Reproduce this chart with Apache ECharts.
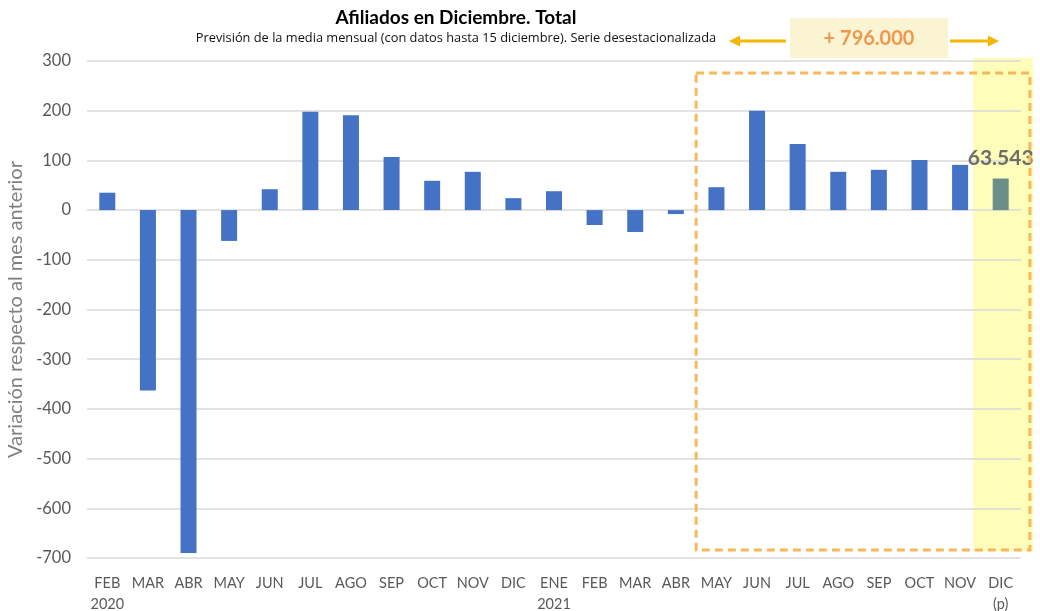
<!DOCTYPE html>
<html>
<head>
<meta charset="utf-8">
<script src="https://cdn.jsdelivr.net/npm/echarts@6/dist/echarts.min.js"></script>
<style>
  html, body { margin: 0; padding: 0; background: #fff; }
  #chart { width: 1040px; height: 611px; }
</style>
</head>
<body>
<div id="chart"></div>
<script>
// Months Feb 2020 .. Dic 2021 (last one is a forecast)
const months = ['FEB\n2020', 'MAR', 'ABR', 'MAY', 'JUN', 'JUL', 'AGO', 'SEP', 'OCT', 'NOV', 'DIC',
  'ENE\n2021', 'FEB', 'MAR', 'ABR', 'MAY', 'JUN', 'JUL', 'AGO', 'SEP', 'OCT', 'NOV', 'DIC\n(p)'];
// monthly change in affiliates (thousands)
const variation = [35, -363, -690, -62, 42, 198, 191, 107, 59, 77, 24,
  38, -30, -44, -8, 46, 200, 133, 77, 81, 101, 91, 63.543];
const yTicks = { min: -700, max: 300, step: 100 };
const totalLabel = '+ 796.000';

const chart = echarts.init(document.getElementById('chart'));
const font = 'Lato, "Open Sans", sans-serif';

const barData = variation.map((v, i) => {
  if (i === variation.length - 1) {
    return {
      value: v,
      itemStyle: { color: '#6A8E8A' },
      label: {
        show: true, position: 'top', distance: 10,
        formatter: p => p.value.toFixed(3),
        fontSize: 21, fontWeight: 'bold', color: '#6E6E66', fontFamily: font
      }
    };
  }
  return v;
});

chart.setOption({
  animation: false,
  grid: { left: 87, right: 19, top: 61, bottom: 53, outerBoundsMode: 'none' },
  xAxis: [{
    type: 'category',
    data: months,
    axisLine: { show: false },
    axisTick: { show: false },
    axisLabel: {
      interval: 0, margin: 15, color: '#595959', fontSize: 14.5,
      fontFamily: font, lineHeight: 21
    }
  }, {
    type: 'value', min: -0.5, max: months.length - 0.5, show: false
  }],
  yAxis: {
    type: 'value',
    min: yTicks.min, max: yTicks.max, interval: yTicks.step,
    name: 'Variación respecto al mes anterior',
    nameLocation: 'middle', nameGap: 60,
    nameTextStyle: { fontSize: 20, color: '#7F7F7F', fontFamily: font },
    axisLine: { show: false },
    axisTick: { show: false },
    axisLabel: { color: '#595959', fontSize: 16.5, fontFamily: font, margin: 16 },
    splitLine: { lineStyle: { color: '#D9D9D9', width: 1.5 } }
  },
  series: [{
    type: 'bar',
    data: barData,
    barWidth: 16,
    z: 3,
    itemStyle: { color: '#4472C4' }
  }],
  graphic: [
    { id: 'title', type: 'text', x: 456, y: 8,
      style: { text: 'Afiliados en Diciembre. Total', font: 'bold 19px ' + font, fill: '#000', align: 'center' } },
    { id: 'subtitle', type: 'text', x: 456, y: 32,
      style: { text: 'Previsión de la media mensual (con datos hasta 15 diciembre). Serie desestacionalizada',
        font: '12.8px "Open Sans", sans-serif', fill: '#111', align: 'center' } },
    { id: 'totBox', type: 'rect', shape: { x: 790, y: 18, width: 158, height: 40 }, style: { fill: '#FBF4D3' }, z: 0 },
    { id: 'totText', type: 'text', x: 869, y: 29,
      style: { text: totalLabel, font: 'bold 20px ' + font, fill: '#EE9950', align: 'center' } },
    { id: 'arrL', type: 'line', shape: { x1: 786, y1: 41, x2: 738, y2: 41 }, style: { stroke: '#F5B600', lineWidth: 3 } },
    { id: 'headL', type: 'polygon', shape: { points: [[729, 41], [740, 35.5], [740, 46.5]] }, style: { fill: '#F5B600' } },
    { id: 'arrR', type: 'line', shape: { x1: 950, y1: 41, x2: 990, y2: 41 }, style: { stroke: '#F5B600', lineWidth: 3 } },
    { id: 'headR', type: 'polygon', shape: { points: [[999, 41], [988, 35.5], [988, 46.5]] }, style: { fill: '#F5B600' } }
  ]
});

// highlight band for the forecast month and dashed box around May-Dic 2021,
// placed through the axes (category index units on the hidden value axis)
function px(ix, val) {
  return chart.convertToPixel({ xAxisIndex: 1, yAxisIndex: 0 }, [ix, val]);
}
const b0 = px(21.32, 306), b1 = px(22.8, -686);
const d0 = px(14.5, 276), d1 = px(22.72, -684);
chart.setOption({
  graphic: [
    { id: 'band', type: 'rect', z: -1, silent: true,
      shape: { x: b0[0], y: b0[1], width: b1[0] - b0[0], height: b1[1] - b0[1] },
      style: { fill: '#FEFDB9' } },
    { id: 'box', type: 'rect', z: 10, silent: true,
      shape: { x: d0[0], y: d0[1], width: d1[0] - d0[0], height: d1[1] - d0[1] },
      style: { fill: 'none', stroke: '#F6B85A', lineWidth: 3, lineDash: [8, 5] } }
  ]
});
</script>
</body>
</html>
